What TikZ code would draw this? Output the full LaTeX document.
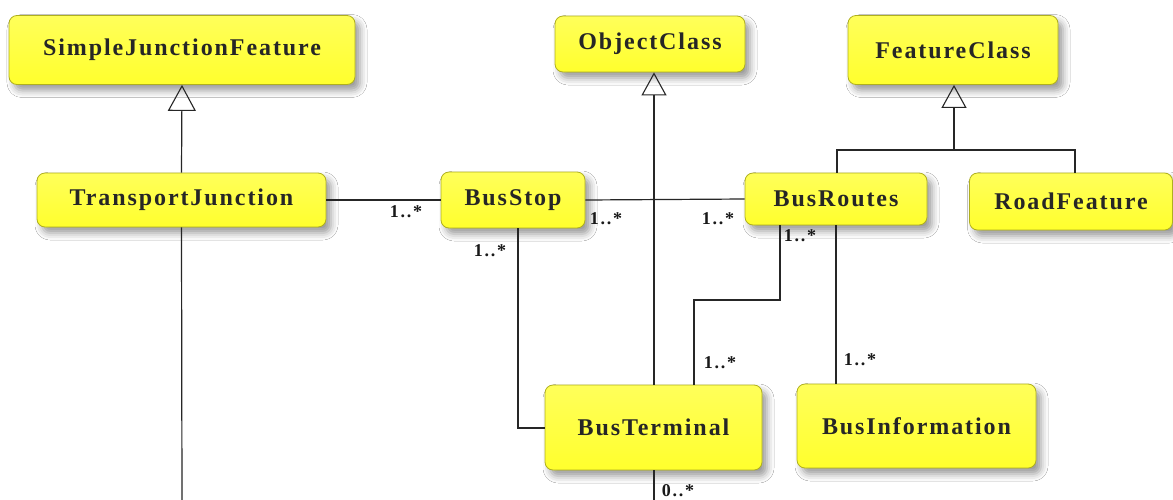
\documentclass[tikz,border=0pt]{standalone}
\usepackage{fontspec}
\setmainfont{Liberation Serif}
\newfontfamily\boxfont{Liberation Serif}[LetterSpace=8]
\newfontfamily\labfont{Liberation Serif}[LetterSpace=10]
\usetikzlibrary{arrows.meta,shadows.blur}
\definecolor{boxborder}{RGB}{175,175,30}
\definecolor{ytop}{RGB}{255,255,90}
\definecolor{ymid}{RGB}{255,255,0}
\definecolor{ybot}{RGB}{255,255,45}
\tikzset{
  cls/.style={rectangle, rounded corners=8pt, draw=boxborder, line width=0.8pt,
    top color=ytop, middle color=ymid, bottom color=ybot, inner sep=0pt,
    font=\boxfont\bfseries\fontsize{24}{28}\selectfont, text=black!85,
    blur shadow={shadow xshift=5pt, shadow yshift=-6pt, shadow blur radius=7pt, shadow opacity=40}},
  conn/.style={line width=1.2pt, draw=black!85},
  gen/.style={conn, -{Triangle[open, width=28pt, length=26pt, line width=1.1pt]}},
  gens/.style={conn, -{Triangle[open, width=25pt, length=23pt, line width=1.1pt]}},
  mult/.style={font=\labfont\bfseries\fontsize{18}{20}\selectfont, inner sep=0pt, text=black!90}
}
\begin{document}
\begin{tikzpicture}[x=1pt,y=-1pt]
\useasboundingbox[fill=white] (0,0) rectangle (1173,499);
% nodes
\node[cls, minimum width=346pt, minimum height=69pt] (sjf) at (182,50) {SimpleJunctionFeature};
\node[cls, minimum width=289pt, minimum height=54pt] (tj) at (181.5,200) {TransportJunction};
\node[cls, minimum width=190pt, minimum height=56pt] (oc) at (650,44) {ObjectClass};
\node[cls, minimum width=210pt, minimum height=69pt] (fc) at (953,50) {FeatureClass};
\node[cls, minimum width=144pt, minimum height=56pt] (bs) at (513,200) {BusStop};
\node[cls, minimum width=182pt, minimum height=52pt] (br) at (836,199) {BusRoutes};
\node[cls, minimum width=203pt, minimum height=57pt] (rf) at (1071,201.5) {RoadFeature};
\node[cls, minimum width=217pt, minimum height=85pt] (bt) at (653.5,427.5) {BusTerminal};
\node[cls, minimum width=239pt, minimum height=84pt] (bi) at (916.5,426) {BusInformation};
% free ends
\coordinate (tjend) at (182,505);
\coordinate (btend) at (654,505);
\coordinate (fcj) at (954,150);
% generalizations
\draw[gen] (tj.north) -- (sjf.south);
\draw[gens] (bt.north -| 654,0) -- (oc.south -| 654,0);
\draw[gens] (fcj) -- (fc.south -| 954,0);
\draw[conn] (br.north -| 837,0) -- (837,150) -- (1075,150) -- (rf.north -| 1075,0);
% associations
\draw[conn] (tj.east) -- (bs.west);
\draw[conn] (bs.east) -- (br.west);
\draw[conn] (tj.south) -- (tjend);
\draw[conn] (bt.south -| 654,0) -- (btend);
\draw[conn] (bs.south -| 518,0) -- (518,428) -- (bt.west |- 0,428);
\draw[conn] (br.south -| 780,0) -- (780,300) -- (694,300) -- (bt.north -| 694,0);
\draw[conn] (br.south) -- (bi.north -| 836,0);
% multiplicities
\node[mult] (m1) at (406,212) {1..*};
\node[mult] (m2) at (606,219) {1..*};
\node[mult] (m3) at (718,219) {1..*};
\node[mult] (m4) at (490,251) {1..*};
\node[mult] (m5) at (800,236) {1..*};
\node[mult] (m6) at (720,363) {1..*};
\node[mult] (m7) at (860,360) {1..*};
\node[mult] (m8) at (678,491) {0..*};
\end{tikzpicture}
\end{document}
